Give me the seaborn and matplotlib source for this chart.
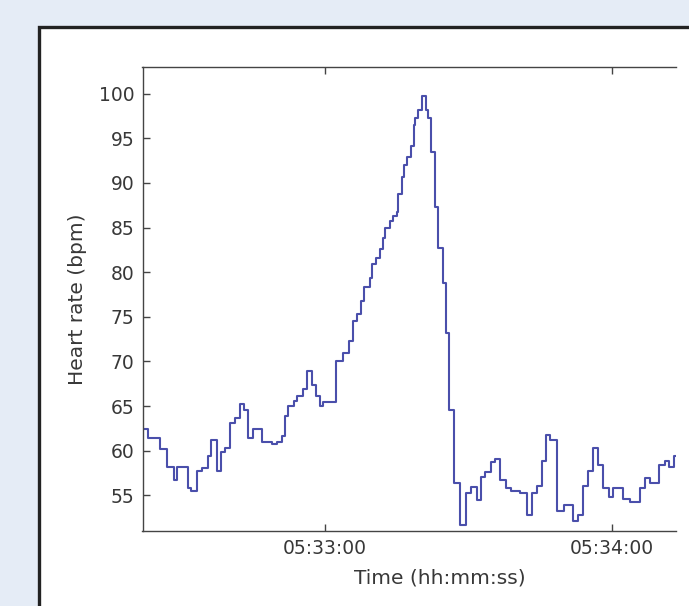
import numpy as np
import pandas as pd
import matplotlib
matplotlib.use("Agg")
import matplotlib.pyplot as plt
import matplotlib.dates as mdates
from matplotlib.patches import Rectangle
import seaborn as sns

# step start times, seconds relative to 05:33:00
seconds = [
    -38.1, -37.0, -34.6, -33.0, -31.6, -30.9, -28.7, -28.0, -26.7, -25.7,
    -24.6, -23.8, -22.7, -21.8, -20.9, -19.9, -18.8, -17.9, -17.0, -16.1,
    -15.0, -13.2, -11.2, -10.1, -9.1, -8.4, -7.7, -6.6, -5.9, -4.7,
    -3.8, -2.8, -1.9, -1.1, -0.4, 2.3, 3.7, 5.1, 5.9, 6.6,
    7.5, 8.2, 9.3, 9.8, 10.7, 11.4, 12.1, 12.6, 13.5, 14.3,
    15.1, 15.3, 16.1, 16.6, 17.2, 17.9, 18.5, 18.8, 19.5, 20.2,
    21.1, 21.6, 22.2, 23.0, 23.7, 24.6, 25.3, 26.0, 27.0, 28.2,
    29.5, 30.5, 31.7, 32.6, 33.5, 34.7, 35.6, 36.6, 37.8, 38.9,
    40.8, 42.2, 43.2, 44.3, 45.3, 46.2, 47.1, 48.5, 49.9, 51.8,
    53.0, 54.0, 54.9, 56.0, 57.1, 58.1, 59.3, 60.2, 62.4, 63.8,
    65.9, 67.0, 68.0, 69.9, 71.1, 72.0, 72.9, 73.4,
]
heart_rate = [
    62.4, 61.4, 60.2, 58.2, 56.7, 58.2, 55.8, 55.5, 57.7, 58.1,
    59.4, 61.2, 57.7, 59.9, 60.3, 63.1, 63.7, 65.2, 64.6, 61.4,
    62.4, 61.0, 60.7, 61.0, 61.6, 63.9, 65.0, 65.6, 66.1, 66.9,
    68.9, 67.4, 66.1, 65.0, 65.5, 70.1, 71.0, 72.3, 74.5, 75.3,
    76.8, 78.3, 79.4, 80.9, 81.6, 82.6, 83.8, 85.0, 85.7, 86.3,
    86.8, 88.8, 90.7, 92.0, 92.9, 94.2, 96.5, 97.3, 98.2, 99.8,
    98.2, 97.3, 93.5, 87.3, 82.7, 78.8, 73.2, 64.6, 56.4, 51.7,
    55.3, 55.9, 54.5, 57.0, 57.6, 58.7, 59.1, 56.7, 55.8, 55.5,
    55.3, 52.8, 55.3, 56.0, 58.8, 61.8, 61.2, 53.2, 53.9, 52.1,
    52.8, 56.0, 57.7, 60.3, 58.4, 55.8, 54.8, 55.8, 54.6, 54.3,
    55.8, 56.9, 56.4, 58.4, 58.8, 58.2, 59.4, 59.4,
]
y_ticks = [55, 60, 65, 70, 75, 80, 85, 90, 95, 100]

base = pd.Timestamp("2000-01-01 05:33:00")
df = pd.DataFrame({
    "time": base + pd.to_timedelta(seconds, unit="s"),
    "hr": heart_rate,
})

sns.set_style("white")
plt.rcParams["font.family"] = ["DejaVu Sans"]
text_col = "#383838"

fig = plt.figure(figsize=(6.89, 6.06), dpi=100)
fig.patch.set_facecolor("#e5ecf6")
# white panel with dark frame
fig.patches.append(Rectangle((39 / 689, -0.2), 1.2, 1.2 - 27 / 606,
                             transform=fig.transFigure, facecolor="white",
                             edgecolor="#222222", linewidth=2.4, zorder=-10))

ax = fig.add_axes([142.5 / 689, 75 / 606, 533.5 / 689, 464 / 606])
ax.set_facecolor("white")
sns.lineplot(data=df, x="time", y="hr", ax=ax, drawstyle="steps-post",
             color="#4a4fab", linewidth=1.5)

ax.set_xlim(base + pd.Timedelta(seconds=-38.2), base + pd.Timedelta(seconds=73.4))
ax.set_ylim(51.0, 103.0)
ax.set_yticks(y_ticks)
ax.xaxis.set_major_locator(mdates.MinuteLocator())
ax.xaxis.set_major_formatter(mdates.DateFormatter("%H:%M:%S"))

for side in ["left", "bottom", "top"]:
    ax.spines[side].set_color("#444444")
    ax.spines[side].set_linewidth(1.0)
ax.spines["right"].set_visible(False)
ax.tick_params(axis="both", direction="in", length=5, width=1.0,
               color="#444444", labelsize=13.5, labelcolor=text_col, pad=6)
ax.tick_params(axis="x", top=True, bottom=True)
ax.tick_params(axis="y", left=True, right=False)

ax.set_xlabel("Time (hh:mm:ss)", fontsize=14.5, color=text_col)
ax.set_ylabel("Heart rate (bpm)", fontsize=14.5, color=text_col)
ax.xaxis.set_label_coords(0.558, -0.08)
ax.yaxis.set_label_coords(-0.104, 0.5)

fig.savefig("out.png", dpi=100, facecolor=fig.get_facecolor())
